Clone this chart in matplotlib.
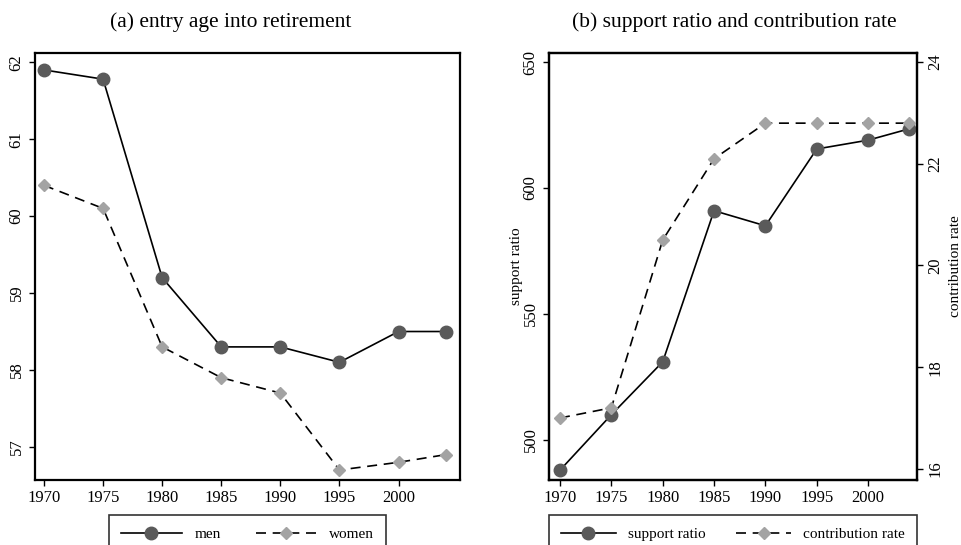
import numpy as np
import matplotlib
matplotlib.use("Agg")
import matplotlib.pyplot as plt

plt.rcParams['font.family'] = ['Liberation Serif', 'DejaVu Serif']

years = [1970, 1975, 1980, 1985, 1990, 1995, 2000, 2004]
xtick_years = [1970, 1975, 1980, 1985, 1990, 1995, 2000]

# (a) entry age into retirement
men = [61.9, 61.78, 59.2, 58.3, 58.3, 58.1, 58.5, 58.5]
women = [60.4, 60.1, 58.3, 57.9, 57.7, 56.7, 56.8, 56.9]

# (b) support ratio and contribution rate
support_ratio = [488, 510, 531, 591, 585, 615.5, 619, 623.5]
contribution_rate = [17.0, 17.2, 20.5, 22.1, 22.8, 22.8, 22.8, 22.8]

dark = '#5a5a5a'
light = '#a3a3a3'
dash = (0, (6, 4))

fig = plt.figure(figsize=(9.61, 5.45), dpi=100)
ax1 = fig.add_axes([35/961, 1-480/545, 425/961, 427/545])
ax2 = fig.add_axes([549/961, 1-480/545, 368/961, 427/545])
ax3 = ax2.twinx()

def style(ax):
    for s in ax.spines.values():
        s.set_linewidth(1.6)
    ax.tick_params(direction='out', length=4, width=1, labelsize=12)

# panel a
ax1.plot(years, men, '-', color='black', lw=1.2, marker='o', ms=9,
         mfc=dark, mec=dark, label='men', zorder=3)
ax1.plot(years, women, color='black', lw=1.2, ls=dash, marker='D', ms=6.5,
         mfc=light, mec=light, label='women', zorder=3)
ax1.set_xlim(1969.24, 2005.2)
ax1.set_ylim(56.57, 62.12)
ax1.set_xticks(xtick_years)
ax1.set_yticks([57, 58, 59, 60, 61, 62])
for lab in ax1.get_yticklabels():
    lab.set_rotation(90)
    lab.set_va('center')
style(ax1)
leg1 = ax1.legend(loc='upper center', bbox_to_anchor=(0.5, -0.082), ncol=2,
                  frameon=True, fancybox=False, edgecolor='black', fontsize=11,
                  handlelength=4, handletextpad=0.8, columnspacing=2.3,
                  borderpad=0.8, borderaxespad=0)
leg1.get_frame().set_linewidth(1.2)

# panel b
l1, = ax2.plot(years, support_ratio, '-', color='black', lw=1.2, marker='o', ms=9,
               mfc=dark, mec=dark, label='support ratio', zorder=3)
l2, = ax3.plot(years, contribution_rate, color='black', lw=1.2, ls=dash, marker='D',
               ms=6.5, mfc=light, mec=light, label='contribution rate', zorder=3)
ax2.set_xlim(1968.93, 2004.76)
ax2.set_ylim(484.1, 653.6)
ax3.set_ylim(15.78, 24.18)
ax2.set_xticks(xtick_years)
ax2.set_yticks([500, 550, 600, 650])
ax3.set_yticks([16, 18, 20, 22, 24])
for ax in (ax2, ax3):
    for lab in ax.get_yticklabels():
        lab.set_rotation(90)
        lab.set_va('center')
style(ax2)
style(ax3)
ax2.set_ylabel('support ratio', fontsize=11, labelpad=0)
ax3.set_ylabel('contribution rate', fontsize=11, labelpad=4)
leg2 = ax2.legend([l1, l2], ['support ratio', 'contribution rate'], loc='upper center',
                  bbox_to_anchor=(0.5, -0.082), ncol=2, frameon=True, fancybox=False,
                  edgecolor='black', fontsize=11, handlelength=3.6, handletextpad=0.8,
                  columnspacing=2.0, borderpad=0.8, borderaxespad=0)
leg2.get_frame().set_linewidth(1.2)

fig.text(231/961, 1-22/545, '(a) entry age into retirement', ha='center', va='center', fontsize=15.5)
fig.text(734/961, 1-22/545, '(b) support ratio and contribution rate', ha='center', va='center', fontsize=15.5)

fig.savefig('out.png', dpi=100)
